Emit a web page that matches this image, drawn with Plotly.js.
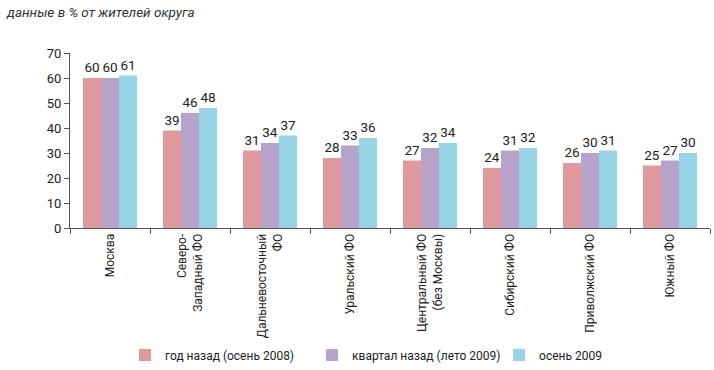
<!DOCTYPE html>
<html>
<head>
<meta charset="utf-8">
<script src="https://cdn.plot.ly/plotly-3.0.1.min.js"></script>
<style>html,body{margin:0;padding:0;background:#fff;}#chart{width:714px;height:370px;}</style>
</head>
<body>
<div id="chart"></div>
<script>
var categories = ["Москва", "Северо-<br>Западный ФО", "Дальневосточный<br>ФО", "Уральский ФО", "Центральный ФО<br>(без Москвы)", "Сибирский ФО", "Приволжский ФО", "Южный ФО"];
var seriesNames = ["год назад (осень 2008)", "квартал назад (лето 2009)", "осень 2009"];
var yearAgo = [60, 39, 31, 28, 27, 24, 26, 25];
var quarterAgo = [60, 46, 34, 33, 32, 31, 30, 27];
var autumn2009 = [61, 48, 37, 36, 34, 32, 31, 30];
var colors = ["#e09a9b", "#b6a3cc", "#98d3e7"];
var FONT = "Roboto, 'Open Sans', sans-serif";

var allSeries = [yearAgo, quarterAgo, autumn2009];
var traces = allSeries.map(function (vals, i) {
  return {
    type: "bar",
    name: seriesNames[i],
    x: categories,
    y: vals,
    text: vals.map(String),
    textposition: "outside",
    cliponaxis: false,
    textfont: {family: FONT, size: 13.5, color: "#222"},
    marker: {color: colors[i], line: {width: 0}}
  };
});

var layout = {
  width: 714, height: 370,
  margin: {l: 70, r: 4, t: 53, b: 142, autoexpand: false},
  paper_bgcolor: "#fff", plot_bgcolor: "#fff",
  barmode: "group",
  bargap: 0.325, bargroupgap: 0,
  font: {family: FONT, size: 12, color: "#222"},
  showlegend: true,
  legend: {orientation: "h", x: 0.086, y: -0.726, xanchor: "left", yanchor: "middle",
           bgcolor: "rgba(0,0,0,0)",
           font: {family: FONT, size: 12, color: "#222"}, traceorder: "normal",
           itemwidth: 30, entrywidth: 142, entrywidthmode: "pixels"},
  xaxis: {
    type: "category", range: [-0.5, 7.5],
    showline: true, linecolor: "#555", linewidth: 1,
    ticks: "outside", tickson: "boundaries", ticklen: 5, tickcolor: "#555",
    tickangle: -90, showgrid: false, zeroline: false,
    tickfont: {family: FONT, size: 12, color: "#222"}
  },
  yaxis: {
    range: [0, 70], dtick: 10,
    showline: true, linecolor: "#555", linewidth: 1,
    ticks: "outside", ticklen: 5, tickcolor: "#555",
    showgrid: false, zeroline: false,
    tickfont: {family: FONT, size: 13, color: "#222"}
  },
  annotations: [{
    text: "<i>данные в % от жителей округа</i>",
    xref: "paper", yref: "paper", x: -66/640, y: 1 + 41/175,
    xanchor: "left", yanchor: "middle", showarrow: false,
    font: {family: FONT, size: 13.5, color: "#333"}
  }]
};

Plotly.newPlot("chart", traces, layout, {displayModeBar: false, staticPlot: true});
</script>
</body>
</html>
